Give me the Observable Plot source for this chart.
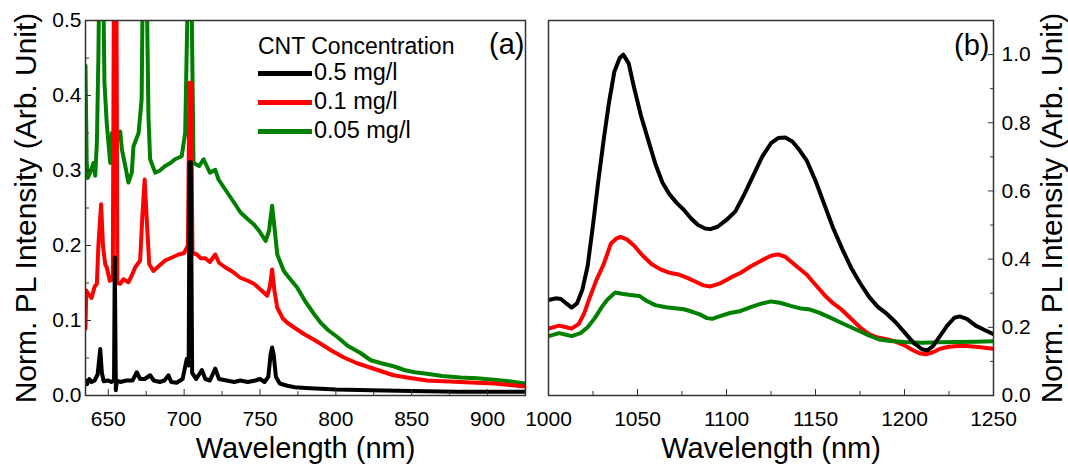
<!DOCTYPE html>
<html>
<head>
<meta charset="utf-8">
<script src="https://cdn.jsdelivr.net/npm/d3@7"></script>
<script src="https://cdn.jsdelivr.net/npm/@observablehq/plot@0.6"></script>
<style>
  body { margin: 0; background: #fff; font-family: "Liberation Sans", Arial, sans-serif; }
  #wrap { position: relative; width: 1068px; height: 467px; overflow: hidden; }
  #wrap svg { position: absolute; left: 0; top: 0; }
  .legtitle { position: absolute; font-size: 23px; color: #000; white-space: nowrap; line-height: 1; }
  .legrow { position: absolute; display: flex; align-items: center; height: 28px; white-space: nowrap; }
  .legrow .sw { display: inline-block; width: 54px; height: 5px; }
  .legrow .lb { font-size: 23.5px; color: #000; margin-left: 2px; line-height: 1; }
</style>
</head>
<body>
<div id="wrap"></div>
<script>
// ---------- series ----------
const seriesNames = ["0.5 mg/l", "0.1 mg/l", "0.05 mg/l"];
const seriesColors = ["#000000", "#ff0000", "#008000"];
const legendTitle = "CNT Concentration";

// ---------- panel (a): visible range ----------
const aBlackX = [635,636,637.5,639,641,643,644.7,645.8,647,650,652,653.8,654.3,655,655.7,658,662,666,668.8,671,674,677.6,680,684,687,689.7,691.5,695,699,701.8,703,703.6,704.4,705.3,708,711.7,714,717,720.5,723,728,733,737,742,747,750,753,755.5,757,758,759,760.5,763,768,773,780,790,800,823,850,880,925];
const aBlackY = [0.02,0.015,0.022,0.018,0.02,0.028,0.062,0.03,0.019,0.02,0.018,0.02,0.184,0.007,0.02,0.018,0.02,0.02,0.031,0.022,0.022,0.027,0.02,0.018,0.02,0.027,0.018,0.017,0.022,0.049,0.04,0.311,0.311,0.03,0.022,0.034,0.022,0.02,0.036,0.022,0.02,0.018,0.02,0.018,0.02,0.022,0.018,0.025,0.055,0.064,0.055,0.025,0.016,0.013,0.011,0.01,0.009,0.008,0.007,0.006,0.005,0.005];

const aRedX = [635,635.5,637,639,641,642.5,643.5,645.3,646.5,648,649,651,653,653.8,655.3,656,657.9,660,663.3,665.5,667.8,671,672.5,674,675.5,677,679.8,683,687.5,692,696.3,700,702.5,703.5,704.5,705.5,708.4,711,713.9,717,720.5,723,727,732,737,742,746,750,754.8,756.5,758,759.5,761.4,765,768,773,779,785,790,797,805,814,823,838,850,860,882,904,925];
const aRedY = [0.089,0.14,0.135,0.13,0.145,0.149,0.2,0.255,0.2,0.175,0.171,0.153,0.155,0.6,0.6,0.15,0.149,0.155,0.151,0.16,0.171,0.18,0.24,0.288,0.23,0.175,0.166,0.172,0.18,0.184,0.188,0.19,0.2,0.417,0.417,0.19,0.188,0.183,0.183,0.178,0.188,0.177,0.171,0.165,0.157,0.153,0.149,0.142,0.133,0.145,0.168,0.14,0.117,0.103,0.097,0.09,0.082,0.075,0.069,0.06,0.051,0.043,0.037,0.027,0.023,0.02,0.018,0.016,0.012];

const aGreenX = [635,635.8,636.5,638,640.3,641.4,642.5,643.5,644.3,646,647,647.5,649,651.3,652.4,653.5,655.5,657.9,659,661.2,663.3,665.5,666.6,670,672,673,675,676.5,677.6,681,684,687.5,691,694,698.4,700.7,703,704.5,706.2,710,712.8,717,720.5,722.7,727,732,737.2,742,746,750,753.7,756,758,759.5,761.4,765.7,770,774.5,780,785.5,790,795,801,808,816,823,830,838,845,852,860,870,882,893,904,914,925];
const aGreenY = [0.44,0.31,0.29,0.297,0.31,0.293,0.337,0.45,0.6,0.6,0.5,0.417,0.363,0.31,0.35,0.33,0.34,0.352,0.328,0.306,0.284,0.297,0.332,0.35,0.395,0.6,0.6,0.372,0.315,0.297,0.3,0.306,0.31,0.315,0.319,0.35,0.6,0.6,0.31,0.306,0.315,0.297,0.301,0.288,0.275,0.26,0.244,0.235,0.228,0.218,0.206,0.22,0.253,0.225,0.188,0.166,0.155,0.144,0.125,0.109,0.097,0.087,0.078,0.066,0.057,0.047,0.043,0.039,0.034,0.031,0.029,0.026,0.024,0.023,0.021,0.019,0.016];

// ---------- panel (b): NIR range ----------
const bBlackX = [1000,1004,1007,1010,1013,1016,1019,1022,1025,1028,1031,1034,1037,1040,1042,1045,1048,1052,1056,1060,1064,1068,1072,1076,1080,1084,1088,1091,1095,1100,1105,1110,1115,1120,1125,1129,1133,1137,1141,1145,1150,1155,1160,1165,1170,1175,1180,1185,1190,1195,1200,1205,1210,1213,1216,1220,1224,1228,1231,1235,1240,1245,1250];
const bBlackY = [0.28,0.285,0.283,0.27,0.258,0.27,0.31,0.38,0.5,0.63,0.75,0.86,0.95,0.99,1.0,0.975,0.905,0.82,0.75,0.68,0.625,0.59,0.565,0.545,0.52,0.5,0.49,0.488,0.495,0.515,0.54,0.59,0.645,0.7,0.74,0.755,0.757,0.745,0.72,0.69,0.63,0.56,0.49,0.43,0.375,0.33,0.29,0.26,0.24,0.215,0.185,0.155,0.135,0.133,0.145,0.175,0.205,0.228,0.232,0.225,0.205,0.192,0.18];

const bRedX = [1000,1006,1010,1013,1017,1020,1023,1027,1031,1035,1038,1040.5,1044,1048,1053,1058,1063,1068,1073,1078,1083,1087,1091,1096,1102,1108,1114,1120,1125,1129,1133,1138,1145,1150,1155,1160,1164,1170,1175,1180,1185,1190,1195,1200,1205,1209,1212,1216,1220,1225,1230,1235,1240,1245,1250];
const bRedY = [0.196,0.205,0.2,0.196,0.21,0.24,0.285,0.34,0.385,0.445,0.46,0.465,0.458,0.44,0.41,0.385,0.37,0.36,0.355,0.345,0.333,0.323,0.32,0.328,0.345,0.36,0.38,0.397,0.41,0.414,0.407,0.385,0.355,0.325,0.295,0.27,0.255,0.225,0.2,0.18,0.17,0.165,0.158,0.147,0.132,0.123,0.121,0.127,0.137,0.143,0.145,0.145,0.143,0.14,0.137];

const bGreenX = [1000,1006,1010,1013,1018,1022,1026,1030,1033,1037.5,1042,1046,1051,1055,1060,1066,1071,1076,1080,1085,1089,1092,1096,1102,1108,1114,1120,1125,1130,1136,1142,1147,1152,1158,1165,1173,1180,1186,1192,1200,1210,1220,1230,1240,1250];
const bGreenY = [0.174,0.183,0.178,0.174,0.183,0.2,0.227,0.26,0.281,0.302,0.298,0.295,0.292,0.278,0.265,0.259,0.256,0.253,0.247,0.238,0.227,0.225,0.232,0.242,0.248,0.26,0.27,0.276,0.272,0.263,0.255,0.252,0.243,0.229,0.212,0.193,0.176,0.164,0.16,0.157,0.155,0.156,0.157,0.158,0.159];

// ---------- axes ----------
const aXDomain = [635, 925];
const aYDomain = [0, 0.5];
const aXMajor = [650, 700, 750, 800, 850, 900];
const aXMinor = [675, 725, 775, 825, 875];
const aYMajor = [0, 0.1, 0.2, 0.3, 0.4, 0.5];
const aYMinor = [0.05, 0.15, 0.25, 0.35, 0.45];

const bXDomain = [1000, 1250];
const bYDomain = [0, 1.1];
const bXMajor = [1000, 1050, 1100, 1150, 1200, 1250];
const bXMinor = [1025, 1075, 1125, 1175, 1225];
const bYMajor = [0, 0.2, 0.4, 0.6, 0.8, 1.0];
const bYMinor = [0.1, 0.3, 0.5, 0.7, 0.9];

const xTitle = "Wavelength (nm)";
const yTitle = "Norm. PL Intensity (Arb. Unit)";
const panelLabels = ["(a)", "(b)"];

// ---------- build ----------
const FONT = '"Liberation Sans", Arial, sans-serif';
const rows = (xs, ys) => xs.map((x, i) => ({x, y: ys[i]}));
const baseStyle = {background: "transparent", overflow: "visible", fontFamily: FONT, fontSize: "21px", color: "#000"};
const common = {width: 1068, height: 467, marginTop: 20, marginBottom: 72, style: baseStyle};
const fmt = d3.format(".1f");
const LW = 4;
const axOpt = {label: null, fontSize: 21, stroke: "#333"};

const plotA = Plot.plot({
  ...common,
  marginLeft: 85, marginRight: 543,
  x: {domain: aXDomain, label: null},
  y: {domain: aYDomain, label: null},
  marks: [
    Plot.line(rows(aGreenX, aGreenY), {x: "x", y: "y", stroke: seriesColors[2], strokeWidth: LW, clip: true}),
    Plot.line(rows(aRedX, aRedY), {x: "x", y: "y", stroke: seriesColors[1], strokeWidth: LW, clip: true}),
    Plot.line(rows(aBlackX, aBlackY), {x: "x", y: "y", stroke: seriesColors[0], strokeWidth: LW, clip: true}),
    Plot.frame({stroke: "#333", strokeWidth: 1.5}),
    Plot.axisX(aXMajor, {...axOpt, tickSize: -6, tickPadding: 22, tickFormat: d => String(d)}),
    Plot.axisX(aXMinor, {...axOpt, tickSize: -4, tickPadding: 22, tickFormat: () => ""}),
    Plot.axisY(aYMajor, {...axOpt, tickSize: -6, tickPadding: 10, tickFormat: fmt}),
    Plot.axisY(aYMinor, {...axOpt, tickSize: -4, tickPadding: 10, tickFormat: () => ""}),
    Plot.text([xTitle], {text: d => d, frameAnchor: "bottom", dy: 53, fontSize: 29, lineAnchor: "middle", textAnchor: "middle", fill: "#000"}),
    Plot.text([yTitle], {text: d => d, frameAnchor: "left", rotate: -90, dx: -59, fontSize: 30, lineAnchor: "middle", textAnchor: "middle", fill: "#000"}),
    Plot.text([panelLabels[0]], {text: d => d, frameAnchor: "top-right", textAnchor: "end", lineAnchor: "top", dx: -1, dy: 13, fontSize: 29, fill: "#000"})
  ]
});

const plotB = Plot.plot({
  ...common,
  marginLeft: 548, marginRight: 75,
  x: {domain: bXDomain, label: null},
  y: {domain: bYDomain, label: null},
  marks: [
    Plot.line(rows(bRedX, bRedY), {x: "x", y: "y", stroke: seriesColors[1], strokeWidth: LW, clip: true}),
    Plot.line(rows(bGreenX, bGreenY), {x: "x", y: "y", stroke: seriesColors[2], strokeWidth: LW, clip: true}),
    Plot.line(rows(bBlackX, bBlackY), {x: "x", y: "y", stroke: seriesColors[0], strokeWidth: LW, clip: true}),
    Plot.frame({stroke: "#333", strokeWidth: 1.5}),
    Plot.axisX(bXMajor, {...axOpt, tickSize: -6, tickPadding: 22, tickFormat: d => String(d)}),
    Plot.axisX(bXMinor, {...axOpt, tickSize: -4, tickPadding: 22, tickFormat: () => ""}),
    Plot.axisY(bYMajor, {...axOpt, anchor: "right", tickSize: -6, tickPadding: 14, tickFormat: fmt}),
    Plot.axisY(bYMinor, {...axOpt, anchor: "right", tickSize: -4, tickPadding: 14, tickFormat: () => ""}),
    Plot.text([xTitle], {text: d => d, frameAnchor: "bottom", dy: 53, fontSize: 29, lineAnchor: "middle", textAnchor: "middle", fill: "#000"}),
    Plot.text([yTitle], {text: d => d, frameAnchor: "right", rotate: -90, dx: 59, fontSize: 30, lineAnchor: "middle", textAnchor: "middle", fill: "#000"}),
    Plot.text([panelLabels[1]], {text: d => d, frameAnchor: "top-right", textAnchor: "end", lineAnchor: "top", dx: -4, dy: 14, fontSize: 29, fill: "#000"})
  ]
});

const wrap = document.getElementById("wrap");
wrap.appendChild(plotA);
wrap.appendChild(plotB);

// legend (inside panel a)
const lt = document.createElement("div");
lt.className = "legtitle";
lt.textContent = legendTitle;
lt.style.left = "258px"; lt.style.top = "35px";
wrap.appendChild(lt);
const rowCenters = [73, 102, 131];
seriesNames.forEach((name, i) => {
  const r = document.createElement("div");
  r.className = "legrow";
  r.style.left = "258px";
  r.style.top = (rowCenters[i] - 14) + "px";
  const sw = document.createElement("span");
  sw.className = "sw"; sw.style.background = seriesColors[i];
  const lb = document.createElement("span");
  lb.className = "lb"; lb.textContent = name;
  r.appendChild(sw); r.appendChild(lb);
  wrap.appendChild(r);
});
</script>
</body>
</html>
